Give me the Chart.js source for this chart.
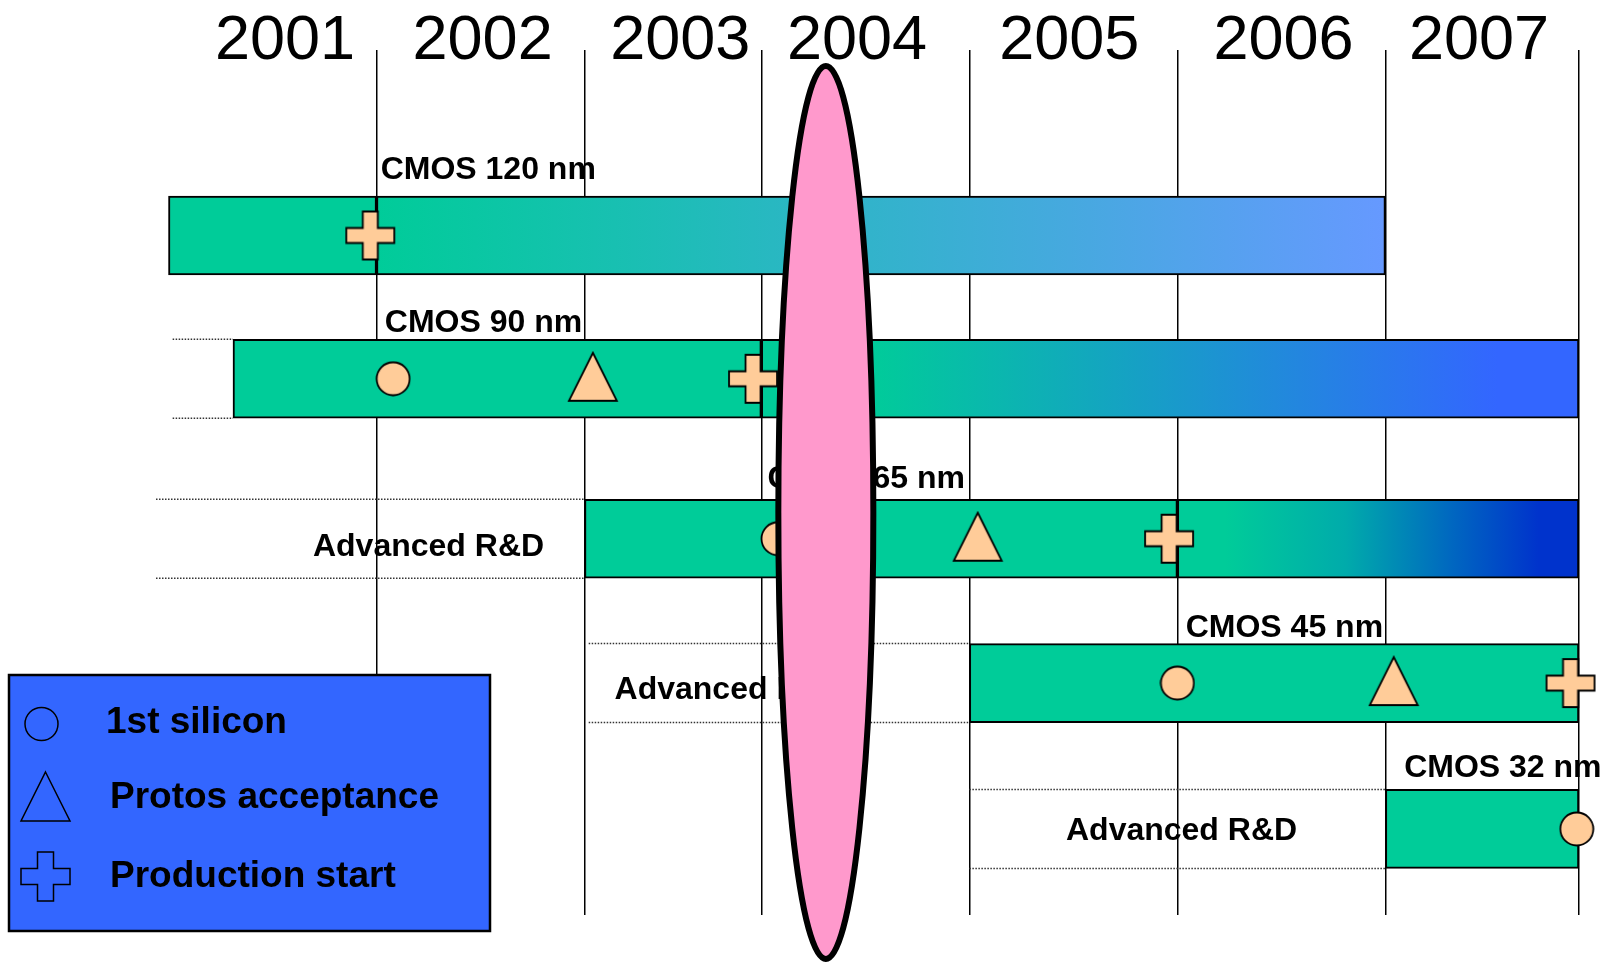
<!DOCTYPE html>
<html>
<head>
<meta charset="utf-8">
<title>CMOS technology roadmap 2001–2007</title>
<script src="https://cdn.jsdelivr.net/npm/chart.js@4/dist/chart.umd.min.js"></script>
<style>
  html, body { margin: 0; padding: 0; background: #fff; }
  #wrap { width: 1608px; height: 963px; }
</style>
</head>
<body>
<div id="wrap"><canvas id="roadmap" width="1608" height="963"></canvas></div>
<script>
// ---- Data -------------------------------------------------------------
// Technology nodes, one lane each (top to bottom)
const nodes = ['CMOS 120 nm', 'CMOS 90 nm', 'CMOS 65 nm', 'CMOS 45 nm', 'CMOS 32 nm'];

// Year header labels and the decimal year each one is centred on
const yearLabels  = ['2001', '2002', '2003', '2004', '2005', '2006', '2007'];
const yearLabelAt = [2001.71, 2002.66, 2003.61, 2004.46, 2005.48, 2006.51, 2007.45];

// Vertical separator lines (decimal years)
const gridAt = [2002.15, 2003.15, 2004.0, 2005.0, 2006.0, 2007.0, 2007.93];

// Development phase per lane [start, end]
const development = [
  [2001.15, 2002.15],
  [2001.46, 2004.0],
  [2003.15, 2006.0],
  [2005.0, 2007.93],
  [2007.0, 2007.93]
];
// Production ramp per lane [start, end] (null = not started in this window)
const production = [
  [2002.15, 2007.0],
  [2004.0, 2007.93],
  [2006.0, 2007.93],
  null,
  null
];
// Advanced R&D lane: where the dotted lane begins (runs up to development start)
const advancedRnDFrom = [null, 2001.17, 2001.09, 2003.17, 2005.0];
const advancedRnDLabel = [false, false, true, true, true];

// Milestones: [decimal year, lane index]
const firstSilicon     = [[2002.23, 1], [2004.08, 2], [2006.0, 3], [2007.92, 4]];
const protosAcceptance = [[2003.19, 1], [2005.04, 2], [2007.04, 3]];
const productionStart  = [[2002.12, 0], [2003.96, 1], [2005.96, 2], [2007.89, 3]];

// Current-year highlight
const todayAt = 2004.31;

// ---- Layout & style ---------------------------------------------------
const GREEN = '#00CC99';
const MARK_FILL = '#FFCC99';
const PINK = '#FF99CC';
const LEGEND_BLUE = '#3366FF';
const FONT = '"Liberation Sans", Arial, Helvetica, sans-serif';
const BAR_THICKNESS = 79;

// Vertical placement of each lane on the y scale (lane spacing is hand-set)
const laneAt = [0, 0.966, 2.044, 3.017, 4.0];

// Colour ramp of each production bar, stops relative to the bar's length
const rampStops = [
  [[0, '#00CC99'], [1, '#6699FF']],
  [[0, '#00CC99'], [0.13, '#00CC99'], [0.9, '#3366FF'], [1, '#3366FF']],
  [[0, '#00CC99'], [0.12, '#00CC99'], [0.42, '#00ABAB'], [0.68, '#0068C0'], [0.9, '#0033CC'], [1, '#0033CC']]
];

// Node label placement: decimal year of the left edge, gap above the bar (px)
const nodeLabelAt  = [2002.17, 2002.19, 2004.03, 2006.04, 2007.09];
const nodeLabelGap = [17, 7, 11, 7, 12];
// "Advanced R&D" label centre (decimal year) and baseline drop below lane centre (px)
const rndLabelAt = [null, null, 2002.40, 2003.85, 2006.02];
const rndLabelDy = [0, 0, 17.5, 15.5, 11.5];

// ---- Marker shapes ----------------------------------------------------
function pathCircle(ctx, cx, cy, r) {
  ctx.beginPath();
  ctx.arc(cx, cy, r, 0, Math.PI * 2);
}
function pathTriangle(ctx, cx, cy, w, h) {
  ctx.beginPath();
  ctx.moveTo(cx, cy - h / 2);
  ctx.lineTo(cx + w / 2, cy + h / 2);
  ctx.lineTo(cx - w / 2, cy + h / 2);
  ctx.closePath();
}
function pathPlus(ctx, cx, cy, s, arm) {
  const o = s / 2, a = arm / 2;
  ctx.beginPath();
  ctx.moveTo(cx - a, cy - o);
  ctx.lineTo(cx + a, cy - o);
  ctx.lineTo(cx + a, cy - a);
  ctx.lineTo(cx + o, cy - a);
  ctx.lineTo(cx + o, cy + a);
  ctx.lineTo(cx + a, cy + a);
  ctx.lineTo(cx + a, cy + o);
  ctx.lineTo(cx - a, cy + o);
  ctx.lineTo(cx - a, cy + a);
  ctx.lineTo(cx - o, cy + a);
  ctx.lineTo(cx - o, cy - a);
  ctx.lineTo(cx - a, cy - a);
  ctx.closePath();
}
function markerCanvas(w, h, draw) {
  const c = document.createElement('canvas');
  c.width = w; c.height = h;
  const g = c.getContext('2d');
  draw(g);
  g.fillStyle = MARK_FILL;
  g.fill();
  g.lineWidth = 1.8;
  g.strokeStyle = '#000';
  g.lineJoin = 'miter';
  g.stroke();
  return c;
}
const circleMark   = markerCanvas(36, 36, g => pathCircle(g, 18, 18, 16.5));
const triangleMark = markerCanvas(52, 56, g => pathTriangle(g, 26, 26, 48, 48));
const plusMark     = markerCanvas(52, 52, g => pathPlus(g, 26, 26, 48, 15));

// ---- Plugins ----------------------------------------------------------
const lanesPlugin = {
  id: 'rndLanes',
  beforeDatasetsDraw(chart) {
    const { ctx, scales: { x, y } } = chart;
    ctx.save();
    ctx.strokeStyle = '#333';
    ctx.lineWidth = 1.5;
    ctx.setLineDash([1.5, 1.5]);
    advancedRnDFrom.forEach((from, i) => {
      if (from === null) return;
      const x0 = x.getPixelForValue(from);
      const x1 = x.getPixelForValue(development[i][0]);
      const yc = y.getPixelForValue(laneAt[i]);
      [yc - BAR_THICKNESS / 2, yc + BAR_THICKNESS / 2].forEach(yy => {
        ctx.beginPath();
        ctx.moveTo(x0, yy);
        ctx.lineTo(x1, yy);
        ctx.stroke();
      });
    });
    ctx.restore();
  }
};

const annotationPlugin = {
  id: 'roadmapText',
  afterDatasetsDraw(chart) {
    const { ctx, scales: { x, y } } = chart;
    ctx.save();
    ctx.fillStyle = '#000';

    // year header
    ctx.font = '63px ' + FONT;
    ctx.textAlign = 'center';
    ctx.textBaseline = 'alphabetic';
    yearLabels.forEach((t, i) => ctx.fillText(t, x.getPixelForValue(yearLabelAt[i]), 59));

    // node labels above the bars
    ctx.font = 'bold 32px ' + FONT;
    ctx.textAlign = 'left';
    nodes.forEach((t, i) => {
      const top = y.getPixelForValue(laneAt[i]) - BAR_THICKNESS / 2;
      ctx.fillText(t, x.getPixelForValue(nodeLabelAt[i]), top - nodeLabelGap[i]);
    });

    // Advanced R&D lane labels
    ctx.textAlign = 'center';
    advancedRnDLabel.forEach((show, i) => {
      if (!show) return;
      ctx.fillText('Advanced R&D', x.getPixelForValue(rndLabelAt[i]),
        y.getPixelForValue(laneAt[i]) + rndLabelDy[i]);
    });

    // current-year highlight
    ctx.beginPath();
    ctx.ellipse(x.getPixelForValue(todayAt), 512.5, 47.5, 446.5, 0, 0, Math.PI * 2);
    ctx.fillStyle = PINK;
    ctx.fill();
    ctx.lineWidth = 6;
    ctx.strokeStyle = '#000';
    ctx.stroke();

    // legend
    ctx.fillStyle = LEGEND_BLUE;
    ctx.fillRect(9, 675, 481, 256);
    ctx.lineWidth = 2.5;
    ctx.strokeRect(9, 675, 481, 256);
    ctx.lineWidth = 1.5;
    pathCircle(ctx, 41.5, 724, 16.5); ctx.stroke();
    pathTriangle(ctx, 45.5, 796.5, 49, 49); ctx.stroke();
    pathPlus(ctx, 45.5, 876.5, 49, 16); ctx.stroke();
    ctx.fillStyle = '#000';
    ctx.font = 'bold 37px ' + FONT;
    ctx.textAlign = 'left';
    ctx.fillText('1st silicon', 106, 733);
    ctx.fillText('Protos acceptance', 110, 808);
    ctx.fillText('Production start', 110, 887);
    ctx.restore();
  }
};

// ---- Chart ------------------------------------------------------------
function rampColor(c) {
  const chart = c.chart;
  if (!chart.chartArea || !c.raw) return GREEN;
  const lane = c.raw.lane;
  const seg = production[lane];
  const x = chart.scales.x;
  const g = chart.ctx.createLinearGradient(x.getPixelForValue(seg[0]), 0, x.getPixelForValue(seg[1]), 0);
  rampStops[lane].forEach(([p, col]) => g.addColorStop(p, col));
  return g;
}

const barCommon = {
  type: 'bar',
  indexAxis: 'y',
  borderColor: '#000',
  borderWidth: 2,
  borderSkipped: false,
  barThickness: BAR_THICKNESS,
  grouped: false,
  clip: false
};
const milestones = list => list.map(([x, lane]) => ({ x, y: laneAt[lane], lane }));

new Chart(document.getElementById('roadmap'), {
  type: 'bar',
  data: {
    datasets: [
      Object.assign({}, barCommon, {
        label: 'Development',
        data: development.map((r, i) => ({ x: r, y: laneAt[i], lane: i })),
        backgroundColor: GREEN,
        order: 3
      }),
      Object.assign({}, barCommon, {
        label: 'Production',
        data: production.map((r, i) => (r ? { x: r, y: laneAt[i], lane: i } : null)).filter(Boolean),
        backgroundColor: rampColor,
        order: 2
      }),
      {
        type: 'scatter', label: '1st silicon',
        data: milestones(firstSilicon),
        pointStyle: circleMark, pointRadius: 16, clip: false, order: 1
      },
      {
        type: 'scatter', label: 'Protos acceptance',
        data: milestones(protosAcceptance),
        pointStyle: triangleMark, pointRadius: 24, clip: false, order: 1
      },
      {
        type: 'scatter', label: 'Production start',
        data: milestones(productionStart),
        pointStyle: plusMark, pointRadius: 24, clip: false, order: 0
      }
    ]
  },
  options: {
    responsive: false,
    animation: false,
    devicePixelRatio: 1,
    events: [],
    layout: { autoPadding: false, padding: { top: 50, bottom: 48, left: 0, right: 0 } },
    plugins: { legend: { display: false }, tooltip: { enabled: false } },
    scales: {
      x: {
        type: 'linear',
        position: 'top',
        offset: false,
        min: 2000.34,
        max: 2008.07,
        border: { display: false },
        grid: { color: '#000', lineWidth: 1.5, drawTicks: false, offset: false },
        ticks: { display: false },
        afterBuildTicks: a => { a.ticks = gridAt.map(v => ({ value: v })); },
        afterFit: a => { a.height = 0; }
      },
      y: {
        type: 'linear',
        reverse: true,
        offset: false,
        min: -1.25,
        max: 4.58,
        grid: { offset: false },
        display: false
      }
    }
  },
  plugins: [lanesPlugin, annotationPlugin]
});
</script>
</body>
</html>
